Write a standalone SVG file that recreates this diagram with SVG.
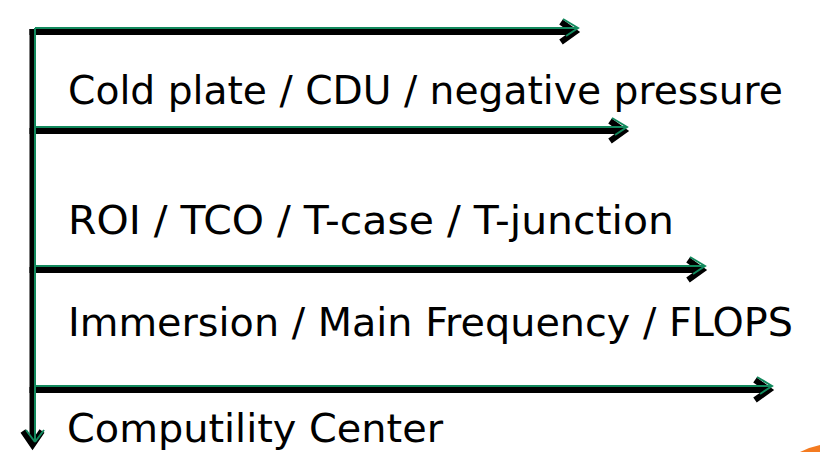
<svg xmlns="http://www.w3.org/2000/svg" width="820" height="452" viewBox="0 0 820 452">
<style>
.sh{fill:none;stroke:#000;stroke-width:6;stroke-linejoin:miter}
.hl{fill:none;stroke:#12895d;stroke-width:2;stroke-linejoin:miter}
.t{font-family:"DejaVu Sans",Verdana,sans-serif;font-size:38.5px;fill:#000}
</style>
<rect width="820" height="452" fill="#fff"/>
<g id="connectors">
<path class="sh" d="M32.5,29 V444 M23,431 L32.5,445 L42,431"/>
<path class="sh" d="M29.5,32 H574 M561,22 L575,32 L561,42"/>
<path class="sh" d="M29.5,131 H623 M610,121 L624,131 L610,141"/>
<path class="sh" d="M29.5,270 H701 M688,260 L702,270 L688,280"/>
<path class="sh" d="M29.5,390 H768 M755,380 L769,390 L755,400"/>
<path class="hl" d="M35,28 V442 M26,430 L35,442 M35,442 L44,430"/>
<path class="hl" d="M35,28 H578 M563,19 L578,28 L566,36"/>
<path class="hl" d="M35,127 H627 M612,118 L627,127 L615,135"/>
<path class="hl" d="M35,266 H705 M690,257 L705,266 L693,274"/>
<path class="hl" d="M35,386 H772 M757,377 L772,386 L760,394"/>
</g>
<g id="label1"><text class="t" x="68" y="104" textLength="715" lengthAdjust="spacingAndGlyphs">Cold plate / CDU / negative pressure</text></g>
<g id="label2"><text class="t" x="68" y="234" textLength="606" lengthAdjust="spacingAndGlyphs">ROI / TCO / T-case / T-junction</text></g>
<g id="label3"><text class="t" x="68" y="336" textLength="725" lengthAdjust="spacingAndGlyphs">Immersion / Main Frequency / FLOPS</text></g>
<g id="label4"><text class="t" x="67" y="442" textLength="376" lengthAdjust="spacingAndGlyphs">Computility Center</text></g>
<path id="corner" d="M800,452 Q810,447 820,445 V452 Z" fill="#f47b20"/>
</svg>
